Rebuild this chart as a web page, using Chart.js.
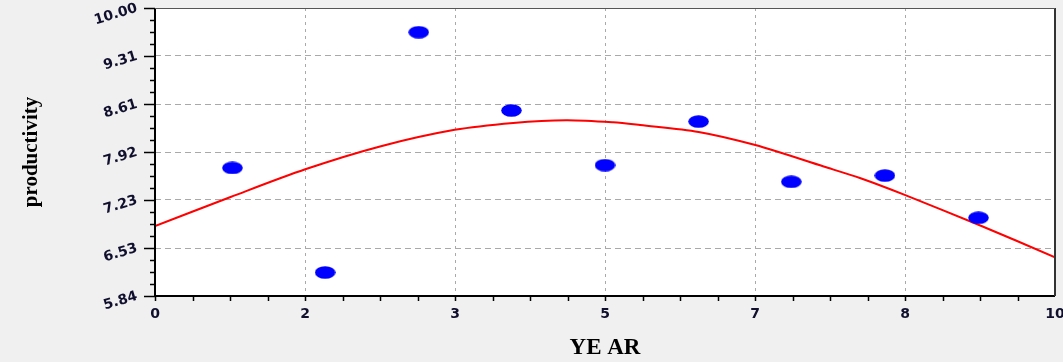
<!DOCTYPE html>
<html>
<head>
<meta charset="utf-8">
<script src="https://cdn.jsdelivr.net/npm/chart.js@4/dist/chart.umd.min.js"></script>
<style>
  html, body { margin: 0; padding: 0; background: #f0f0f0; }
  canvas { display: block; }
</style>
</head>
<body>
<canvas id="chart" width="1063" height="362"></canvas>
<script>
// Observed productivity by year
const yearObs = [0.86, 1.89, 2.93, 3.96, 5.00, 6.04, 7.07, 8.11, 9.15];
const productivityObs = [7.69, 6.18, 9.65, 8.52, 7.73, 8.36, 7.49, 7.58, 6.97];

// Fitted trend curve
const yearFit = [0, 0.84, 1.67, 2.5, 3.33, 3.98, 4.57, 5.09, 5.39, 6.04, 6.67, 7.43, 7.84, 8.33, 9.13, 10];
const productivityFit = [6.85, 7.27, 7.67, 8.00, 8.24, 8.34, 8.38, 8.35, 8.31, 8.21, 8.02, 7.71, 7.54, 7.30, 6.88, 6.40];

// Axis ticks
const xTickValues = [0, 10 / 6, 20 / 6, 5, 40 / 6, 50 / 6, 10];
const xTickLabels = ['0', '2', '3', '5', '7', '8', '10'];
const yTickValues = [5.84, 6.5333, 7.2267, 7.92, 8.6133, 9.3067, 10.00];
const yTickLabels = ['5.84', '6.53', '7.23', '7.92', '8.61', '9.31', '10.00'];

// Elliptical marker for the observations
const dot = document.createElement('canvas');
dot.width = 21; dot.height = 13;
(function () {
  const g = dot.getContext('2d');
  g.fillStyle = '#0000ff';
  g.beginPath();
  g.ellipse(10.5, 6.5, 10.3, 6.3, 0, 0, Math.PI * 2);
  g.fill();
})();

const tickFont = { family: 'DejaVu Sans', weight: 'bold', size: 14 };
const tickColor = '#10102e';

// Background, plot frame and minor/major tick marks
const framePlugin = {
  id: 'frame',
  beforeDraw(chart) {
    const { ctx, chartArea: a } = chart;
    ctx.save();
    ctx.fillStyle = '#f0f0f0';
    ctx.fillRect(0, 0, chart.width, chart.height);
    ctx.fillStyle = '#ffffff';
    ctx.fillRect(a.left, a.top, a.right - a.left, a.bottom - a.top);
    ctx.restore();
  },
  afterDraw(chart) {
    const { ctx, chartArea: a, scales } = chart;
    const xs = scales.x, ys = scales.y;
    ctx.save();
    ctx.strokeStyle = '#000000';
    ctx.lineWidth = 1.5;
    // x ticks (all same length, pointing down)
    for (let i = 0; i < xTickValues.length - 1; i++) {
      const v0 = xTickValues[i], v1 = xTickValues[i + 1];
      for (let k = 0; k < 4; k++) {
        const px = Math.round(xs.getPixelForValue(v0 + (v1 - v0) * k / 4)) + 0.5;
        ctx.beginPath();
        ctx.moveTo(px, a.bottom);
        ctx.lineTo(px, a.bottom + 5);
        ctx.stroke();
      }
    }
    // y ticks (major longer than minor, pointing left)
    for (let i = 0; i < yTickValues.length - 1; i++) {
      const v0 = yTickValues[i], v1 = yTickValues[i + 1];
      for (let k = 0; k < 4; k++) {
        const py = Math.round(ys.getPixelForValue(v0 + (v1 - v0) * k / 4)) + 0.5;
        ctx.beginPath();
        ctx.moveTo(a.left, py);
        ctx.lineTo(a.left - (k === 0 ? 11 : 5), py);
        ctx.stroke();
      }
    }
    const pyTop = Math.round(ys.getPixelForValue(yTickValues[yTickValues.length - 1])) + 0.5;
    ctx.beginPath();
    ctx.moveTo(a.left, pyTop);
    ctx.lineTo(a.left - 11, pyTop);
    ctx.stroke();
    // frame
    ctx.lineWidth = 2;
    ctx.strokeStyle = '#000000';
    ctx.beginPath();
    ctx.moveTo(a.left, a.top);
    ctx.lineTo(a.left, a.bottom);
    ctx.lineTo(a.right, a.bottom);
    ctx.stroke();
    ctx.strokeStyle = '#333333';
    ctx.beginPath();
    ctx.moveTo(a.right, a.bottom);
    ctx.lineTo(a.right, a.top);
    ctx.stroke();
    ctx.lineWidth = 1;
    ctx.strokeStyle = '#555555';
    ctx.beginPath();
    ctx.moveTo(a.left, a.top + 0.5);
    ctx.lineTo(a.right, a.top + 0.5);
    ctx.stroke();
    ctx.restore();
  }
};

new Chart(document.getElementById('chart'), {
  type: 'scatter',
  data: {
    datasets: [
      {
        label: 'productivity',
        data: yearObs.map((x, i) => ({ x, y: productivityObs[i] })),
        pointStyle: dot,
        pointRadius: 10,
        backgroundColor: '#0000ff',
        borderWidth: 0
      },
      {
        label: 'trend',
        data: yearFit.map((x, i) => ({ x, y: productivityFit[i] })),
        showLine: true,
        borderColor: '#ff0000',
        borderWidth: 2,
        pointRadius: 0,
        tension: 0.3
      }
    ]
  },
  options: {
    responsive: false,
    animation: false,
    layout: { autoPadding: false, padding: { left: 21, top: 8, right: 8, bottom: 0 } },
    plugins: { legend: { display: false }, tooltip: { enabled: false } },
    scales: {
      x: {
        type: 'linear',
        min: 0,
        max: 10,
        afterBuildTicks: s => { s.ticks = xTickValues.map(v => ({ value: v })); },
        afterFit: s => { s.height = 66; s.paddingLeft = 0; s.paddingRight = 0; },
        ticks: {
          padding: 10,
          autoSkip: false,
          minRotation: 0,
          maxRotation: 0,
          color: tickColor,
          font: tickFont,
          callback: (v, i) => xTickLabels[i]
        },
        grid: { color: '#a9a9a9', lineWidth: 1, drawTicks: false },
        border: { display: false, dash: [3, 4] },
        title: {
          display: true,
          text: 'YE AR',
          color: '#000000',
          font: { family: 'Liberation Serif', weight: 'bold', size: 23, lineHeight: 1 },
          padding: { top: 0, bottom: 2 }
        }
      },
      y: {
        type: 'linear',
        min: 5.84,
        max: 10,
        afterBuildTicks: s => { s.ticks = yTickValues.map(v => ({ value: v })); },
        afterFit: s => { s.width = 134; s.paddingTop = 0; s.paddingBottom = 0; },
        ticks: {
          padding: 18,
          autoSkip: false,
          minRotation: 17,
          maxRotation: 17,
          color: tickColor,
          font: tickFont,
          callback: (v, i) => yTickLabels[i]
        },
        grid: { color: '#a9a9a9', lineWidth: 1, drawTicks: false },
        border: { display: false, dash: [6, 4] },
        title: {
          display: true,
          text: 'productivity',
          color: '#000000',
          font: { family: 'Liberation Serif', weight: 'bold', size: 21, lineHeight: 1 },
          padding: 0
        }
      }
    }
  },
  plugins: [framePlugin]
});
</script>
</body>
</html>
